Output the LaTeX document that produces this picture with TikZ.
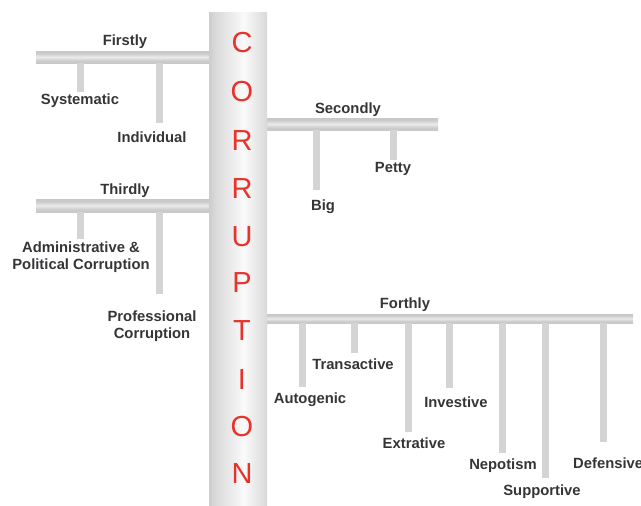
\documentclass[tikz,border=0pt]{standalone}
\usepackage{fontspec}
\setmainfont{Liberation Sans}
\definecolor{corr}{RGB}{232,50,44}
\definecolor{txt}{RGB}{55,52,56}
\definecolor{dropc}{RGB}{212,212,212}
\pgfdeclarehorizontalshading{pillarshade}{100bp}{color(0bp)=(black!48); color(10bp)=(black!35); color(30bp)=(black!15); color(55bp)=(black!2); color(75bp)=(black!15); color(90bp)=(black!33); color(100bp)=(black!46)}
\pgfdeclareverticalshading{barshade}{100bp}{color(0bp)=(black!25); color(35bp)=(black!20); color(50bp)=(black!8); color(65bp)=(black!20); color(100bp)=(black!27)}
\begin{document}
\begin{tikzpicture}[x=1pt,y=-1pt,
  lbl/.style={font=\fontsize{14.8}{16.5}\selectfont\bfseries, text=txt, inner sep=0pt, align=center},
  barbox/.style={shading=barshade, draw=none},
  drop/.style={line width=7pt, draw=dropc},
  letter/.style={font=\fontsize{29}{30}\selectfont, text=corr, inner sep=0pt}]
\useasboundingbox (0,0) rectangle (641,506);
% bars
\shade[barbox] (36,51) rectangle (209,63);
\shade[barbox] (267,118) rectangle (438,130);
\shade[barbox] (36,199) rectangle (209,212);
\shade[barbox] (267,314) rectangle (633,323);
% pillar
\shade[shading=pillarshade] (209,12) rectangle (267,506);
\foreach \ch/\yy [count=\i] in {C/43,O/92,R/141,R/189,U/237,P/283,T/331,I/380,O/427,N/474}
  \node[letter] (L\i) at (242,\yy) {\ch};
% headings
\node[lbl] (first) at (125,42) {Firstly};
\node[lbl] (second) at (348,110) {Secondly};
\node[lbl] (third) at (125,191) {Thirdly};
\node[lbl] (fourth) at (405,305) {Forthly};
% labels
\node[lbl] (sys) at (80,101) {Systematic};
\node[lbl] (ind) at (152,137) {Individual};
\node[lbl] (big) at (323,207) {Big};
\node[lbl] (pet) at (393,169) {Petty};
\node[lbl] (adm) at (81,257) {Administrative \&\\Political Corruption};
\node[lbl] (pro) at (152,326) {Professional\\Corruption};
\node[lbl] (aut) at (310,400) {Autogenic};
\node[lbl] (tra) at (353,364) {Transactive};
\node[lbl] (ext) at (414,443) {Extrative};
\node[lbl] (inv) at (456,402) {Investive};
\node[lbl] (nep) at (503,466) {Nepotism};
\node[lbl] (sup) at (542,492) {Supportive};
\node[lbl,anchor=west] (def) at (573,463) {Defensive};
% connector ends
\coordinate (s1) at (80,63);  \coordinate (e1) at (80,92);
\coordinate (s2) at (159,63); \coordinate (e2) at (159,123);
\coordinate (s3) at (316,130); \coordinate (e3) at (316,190);
\coordinate (s4) at (393,130); \coordinate (e4) at (393,160);
\coordinate (s5) at (80,212); \coordinate (e5) at (80,239);
\coordinate (s6) at (159,212); \coordinate (e6) at (159,294);
\coordinate (s7) at (302,323); \coordinate (e7) at (302,387);
\coordinate (s8) at (354,323); \coordinate (e8) at (354,353);
\coordinate (s9) at (408,323); \coordinate (e9) at (408,432);
\coordinate (s10) at (449,323); \coordinate (e10) at (449,388);
\coordinate (s11) at (502,323); \coordinate (e11) at (502,453);
\coordinate (s12) at (545,323); \coordinate (e12) at (545,478);
\coordinate (s13) at (603,323); \coordinate (e13) at (603,442);
\foreach \i in {1,...,13} \draw[drop] (s\i) -- (e\i);
\end{tikzpicture}
\end{document}
